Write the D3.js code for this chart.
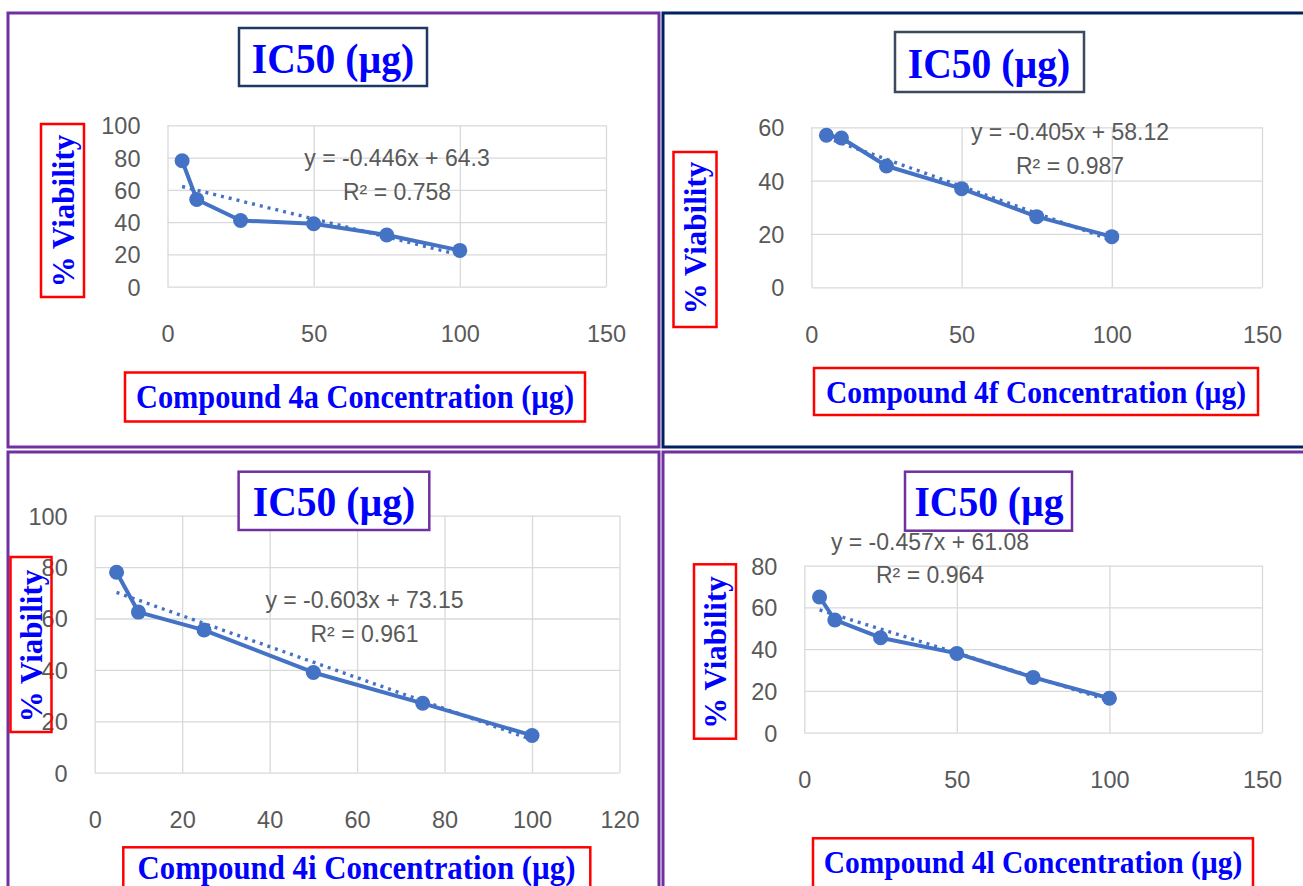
<!DOCTYPE html>
<html><head><meta charset="utf-8">
<script src="https://cdn.jsdelivr.net/npm/d3@7"></script>
<style>body{margin:0;background:#fff;overflow:hidden} svg{display:block}</style>
</head><body><svg id="c" width="1303" height="886"></svg>
<script>
// ---- data ----
const concentrations = [5, 10, 25, 50, 75, 100];
const viability4a = [78, 54, 41, 39, 32, 22.5];
const viability4f = [57, 56, 45.5, 37, 26.5, 19];
const viability4i = [78, 62.5, 55.5, 39, 27, 14.5];
const viability4l = [65, 54, 45.5, 38, 26.5, 16.5];
const compounds = ["4a", "4f", "4i", "4l"];
const trendSlopes = [-0.446, -0.405, -0.603, -0.457];
const trendIntercepts = [64.3, 58.12, 73.15, 61.08];
const equationLabels = ["y = -0.446x + 64.3", "y = -0.405x + 58.12", "y = -0.603x + 73.15", "y = -0.457x + 61.08"];
const r2Labels = ["R\u00B2 = 0.758", "R\u00B2 = 0.987", "R\u00B2 = 0.961", "R\u00B2 = 0.964"];
const titles = ["IC50 (\u00B5g)", "IC50 (\u00B5g)", "IC50 (\u00B5g)", "IC50 (\u00B5g"];
const yTicks = [[0, 20, 40, 60, 80, 100], [0, 20, 40, 60], [0, 20, 40, 60, 80, 100], [0, 20, 40, 60, 80]];
const xTicks = [[0, 50, 100, 150], [0, 50, 100, 150], [0, 20, 40, 60, 80, 100, 120], [0, 50, 100, 150]];
const yLabelText = "% Viability";
const series = [viability4a, viability4f, viability4i, viability4l];

// ---- layout ----
const layout = [
  { frame: {x: 8, y: 13, w: 651, h: 434, c: "#7030a0"},
    plot: {l: 167.5, r: 606, t: 125.3, b: 286.7},
    tbox: {x: 239, y: 28, w: 188, h: 58, c: "#1f3864"}, tt: {x: 333, y: 73},
    ybox: {x: 41, y: 124, w: 43, h: 173}, yt: {x: 63, y: 211},
    xbox: {x: 125, y: 372.5, w: 460, h: 49}, xt: {x: 355, y: 408, fs: 33},
    eq: {x: 397, y: 158}, r2: {x: 397, y: 192} },
  { frame: {x: 663, y: 13, w: 660, h: 434, c: "#002060"},
    plot: {l: 811.4, r: 1262, t: 127.3, b: 287.3},
    tbox: {x: 895, y: 32, w: 189, h: 60, c: "#3b4a5e"}, tt: {x: 989, y: 78},
    ybox: {x: 673.5, y: 152, w: 43, h: 175}, yt: {x: 695, y: 238},
    xbox: {x: 814, y: 368, w: 444, h: 47}, xt: {x: 1036, y: 403, fs: 32},
    eq: {x: 1070, y: 132}, r2: {x: 1070, y: 166} },
  { frame: {x: 8, y: 452, w: 651, h: 470, c: "#7030a0"},
    plot: {l: 94.7, r: 619.5, t: 515.7, b: 772.7},
    tbox: {x: 238.6, y: 471.7, w: 190.7, h: 58.3, c: "#7030a0"}, tt: {x: 334, y: 516},
    ybox: {x: 10.5, y: 557, w: 41, h: 175}, yt: {x: 31.6, y: 646},
    xbox: {x: 123.3, y: 847.3, w: 467, h: 70}, xt: {x: 356.5, y: 879, fs: 33.5},
    eq: {x: 364.5, y: 600}, r2: {x: 364.5, y: 634} },
  { frame: {x: 663, y: 452, w: 660, h: 470, c: "#7030a0"},
    plot: {l: 804.3, r: 1262, t: 565.7, b: 732.7},
    tbox: {x: 905, y: 471.7, w: 167, h: 59, c: "#7030a0"}, tt: {x: 989, y: 516},
    ybox: {x: 694, y: 564.3, w: 42, h: 174.4}, yt: {x: 715.4, y: 652.5},
    xbox: {x: 813, y: 838.3, w: 440, h: 70}, xt: {x: 1033, y: 873, fs: 32},
    eq: {x: 930, y: 542}, r2: {x: 930, y: 575} }
];

const BLUE = "#4472c4";
const GRID = "#d9d9d9";
const TICK = "#595959";
const SANS = "'Liberation Sans', Arial, sans-serif";
const SERIF = "'Liberation Serif', 'Times New Roman', serif";
const SQUEEZE = 0.92;

const svg = d3.select("#c");
svg.append("rect").attr("width", 1303).attr("height", 886).attr("fill", "#fff");

layout.forEach((L, i) => {
  const g = svg.append("g");
  // panel frame
  g.append("rect").attr("x", L.frame.x).attr("y", L.frame.y).attr("width", L.frame.w).attr("height", L.frame.h)
    .attr("fill", "none").attr("stroke", L.frame.c).attr("stroke-width", 3);

  const xs = xTicks[i], ys = yTicks[i];
  const x = d3.scaleLinear().domain([xs[0], xs[xs.length - 1]]).range([L.plot.l, L.plot.r]);
  const y = d3.scaleLinear().domain([ys[0], ys[ys.length - 1]]).range([L.plot.b, L.plot.t]);

  // gridlines
  const gy = g.append("g").attr("transform", `translate(${L.plot.l},0)`)
    .call(d3.axisLeft(y).tickValues(ys).tickSize(-(L.plot.r - L.plot.l)).tickFormat(""));
  gy.select(".domain").remove();
  gy.selectAll("line").attr("stroke", GRID).attr("stroke-width", 1.3);
  const gx = g.append("g").attr("transform", `translate(0,${L.plot.b})`)
    .call(d3.axisBottom(x).tickValues(xs).tickSize(-(L.plot.b - L.plot.t)).tickFormat(""));
  gx.select(".domain").remove();
  gx.selectAll("line").attr("stroke", GRID).attr("stroke-width", 1.3);

  // tick labels
  const ay = g.append("g").attr("transform", `translate(${L.plot.l},0)`)
    .call(d3.axisLeft(y).tickValues(ys).tickSize(0).tickPadding(27));
  ay.select(".domain").remove();
  ay.selectAll("text").attr("fill", TICK).attr("font-family", SANS).attr("font-size", 23.5).attr("dy", "0.36em");
  const ax = g.append("g").attr("transform", `translate(0,${L.plot.b})`)
    .call(d3.axisBottom(x).tickValues(xs).tickSize(0).tickPadding(0));
  ax.select(".domain").remove();
  ax.selectAll("text").attr("fill", TICK).attr("font-family", SANS).attr("font-size", 23.5).attr("y", 47).attr("dy", "0.36em");

  const pts = concentrations.map((c, k) => [c, series[i][k]]);
  // trendline (dotted)
  const x0 = concentrations[0], x1 = concentrations[concentrations.length - 1];
  g.append("line")
    .attr("x1", x(x0)).attr("y1", y(trendSlopes[i] * x0 + trendIntercepts[i]))
    .attr("x2", x(x1)).attr("y2", y(trendSlopes[i] * x1 + trendIntercepts[i]))
    .attr("stroke", BLUE).attr("stroke-width", 3.4).attr("stroke-dasharray", "3,5");
  // series line
  g.append("path").datum(pts)
    .attr("d", d3.line().x(d => x(d[0])).y(d => y(d[1])))
    .attr("fill", "none").attr("stroke", BLUE).attr("stroke-width", 4).attr("stroke-linejoin", "round");
  g.selectAll("circle.m").data(pts).enter().append("circle")
    .attr("cx", d => x(d[0])).attr("cy", d => y(d[1])).attr("r", 7.5).attr("fill", BLUE);

  // equation labels
  g.append("text").attr("x", L.eq.x).attr("y", L.eq.y).attr("dy", "0.36em").attr("text-anchor", "middle")
    .attr("font-family", SANS).attr("font-size", 23).attr("fill", TICK).text(equationLabels[i]);
  g.append("text").attr("x", L.r2.x).attr("y", L.r2.y).attr("dy", "0.36em").attr("text-anchor", "middle")
    .attr("font-family", SANS).attr("font-size", 23).attr("fill", TICK).text(r2Labels[i]);

  // title box
  g.append("rect").attr("x", L.tbox.x).attr("y", L.tbox.y).attr("width", L.tbox.w).attr("height", L.tbox.h)
    .attr("fill", "#fff").attr("stroke", L.tbox.c).attr("stroke-width", 2.5);
  g.append("text").attr("transform", `translate(${L.tt.x},${L.tt.y}) scale(${SQUEEZE},1)`)
    .attr("text-anchor", "middle")
    .attr("font-family", SERIF).attr("font-weight", "bold").attr("font-size", 43).attr("fill", "#0000ff")
    .text(titles[i]);

  // y label box
  g.append("rect").attr("x", L.ybox.x).attr("y", L.ybox.y).attr("width", L.ybox.w).attr("height", L.ybox.h)
    .attr("fill", "none").attr("stroke", "#ff0000").attr("stroke-width", 2.5);
  g.append("text").attr("transform", `translate(${L.yt.x},${L.yt.y}) rotate(-90)`)
    .attr("dy", "0.35em").attr("text-anchor", "middle")
    .attr("font-family", SERIF).attr("font-weight", "bold").attr("font-size", 31).attr("fill", "#0000ff")
    .text(yLabelText);

  // x label box
  g.append("rect").attr("x", L.xbox.x).attr("y", L.xbox.y).attr("width", L.xbox.w).attr("height", L.xbox.h)
    .attr("fill", "#fff").attr("stroke", "#ff0000").attr("stroke-width", 2.5);
  g.append("text").attr("transform", `translate(${L.xt.x},${L.xt.y}) scale(${SQUEEZE},1)`)
    .attr("text-anchor", "middle")
    .attr("font-family", SERIF).attr("font-weight", "bold").attr("font-size", L.xt.fs).attr("fill", "#0000ff")
    .text(`Compound ${compounds[i]} Concentration (\u00B5g)`);
});
</script>
</body></html>
